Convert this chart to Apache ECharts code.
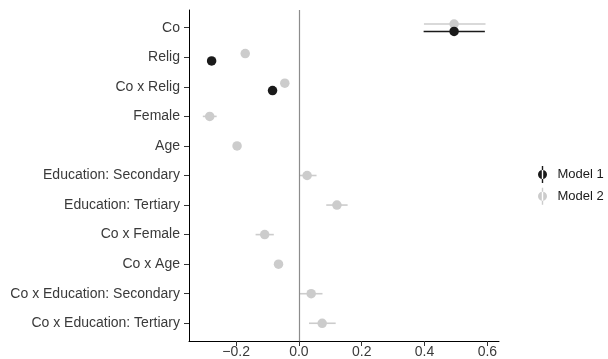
<!DOCTYPE html>
<html><head><meta charset="utf-8">
<script src="https://cdn.jsdelivr.net/npm/echarts@6/dist/echarts.min.js"></script>
<style>html,body{margin:0;padding:0;background:#fff}#c{width:608px;height:359px}</style>
</head><body><div id="c"></div>
<script>
var categories = ["Co","Relig","Co x Relig","Female","Age","Education: Secondary","Education: Tertiary","Co x Female","Co x Age","Co x Education: Secondary","Co x Education: Tertiary"];
var model1Est = [0.494, -0.278, -0.084, null, null, null, null, null, null, null, null];
var model1Lo  = [0.397, -0.289, -0.094, null, null, null, null, null, null, null, null];
var model1Hi  = [0.592, -0.267, -0.074, null, null, null, null, null, null, null, null];
var model2Est = [0.494, -0.171, -0.045, -0.284, -0.197, 0.026, 0.121, -0.109, -0.065, 0.039, 0.074];
var model2Lo  = [0.398, -0.180, -0.054, -0.306, -0.204, 0.003, 0.087, -0.138, -0.072, 0.003, 0.032];
var model2Hi  = [0.594, -0.162, -0.036, -0.262, -0.190, 0.056, 0.155, -0.080, -0.058, 0.075, 0.117];
var xTicks = [-0.2, 0, 0.2, 0.4, 0.6];
var modelNames = ["Model 1", "Model 2"];
var modelColors = ["#1a1a1a", "#cccccc"];

var n = categories.length;
var dodge = 0.125;
function build(est, lo, hi, other, sign) {
  var pts = [], bars = [];
  for (var i = 0; i < n; i++) {
    if (est[i] == null) continue;
    var y = n - i + (other[i] != null ? sign * dodge : 0);
    pts.push([est[i], y]);
    bars.push([lo[i], hi[i], y]);
  }
  return {pts: pts, bars: bars};
}
var d1 = build(model1Est, model1Lo, model1Hi, model2Est, -1);
var d2 = build(model2Est, model2Lo, model2Hi, model1Est, 1);

function errSeries(name, data, color) {
  return {
    type: 'custom', name: name, data: data, silent: true, z: 2,
    itemStyle: {color: color},
    encode: {x: [0, 1], y: 2},
    renderItem: function (params, api) {
      var a = api.coord([api.value(0), api.value(2)]);
      var b = api.coord([api.value(1), api.value(2)]);
      return {type: 'line', shape: {x1: a[0], y1: a[1], x2: b[0], y2: b[1]},
        style: {stroke: color, lineWidth: 1.6}};
    }
  };
}
function ptSeries(name, data, color) {
  return {type: 'scatter', name: name, data: data, symbol: 'circle', symbolSize: 9.5, z: 3,
    itemStyle: {color: color, opacity: 1}, silent: true};
}
var iconPath = 'path://M4.3,0 L5.7,0 L5.7,17 L4.3,17 Z M0.5,8.5 A4.5,4.5 0 1,0 9.5,8.5 A4.5,4.5 0 1,0 0.5,8.5 Z';

var chart = echarts.init(document.getElementById('c'), null, {renderer: 'canvas'});
chart.setOption({
  animation: false,
  color: modelColors,
  textStyle: {fontFamily: 'Liberation Sans, Arial, sans-serif'},
  grid: {left: 189, right: 109, top: 10, bottom: 18, containLabel: false},
  legend: {
    orient: 'vertical', left: 533, top: 161, itemWidth: 10, itemHeight: 17, itemGap: 4.7,
    textStyle: {fontSize: 13, color: '#1a1a1a', padding: [0, 0, 0, 5], fontFamily: 'Liberation Sans, Arial, sans-serif'},
    data: [{name: modelNames[0], icon: iconPath, itemStyle: {color: modelColors[0]}},
           {name: modelNames[1], icon: iconPath, itemStyle: {color: modelColors[1]}}],
    selectedMode: false
  },
  xAxis: {
    type: 'value', min: -0.35, max: 0.637,
    splitLine: {show: false},
    axisLine: {show: true, onZero: false, lineStyle: {color: '#000', width: 1}},
    axisTick: {show: true, length: 5, lineStyle: {color: '#333'}, customValues: xTicks},
    axisLabel: {fontSize: 14, color: '#3a3a3a', margin: 4, customValues: xTicks,
      formatter: function (v) { return v.toFixed(1).replace('-', '\u2212'); }}
  },
  yAxis: {
    type: 'value', min: 0.4, max: 11.6,
    splitLine: {show: false},
    axisLine: {show: true, onZero: false, lineStyle: {color: '#000', width: 1}},
    axisTick: {show: true, length: 5, lineStyle: {color: '#333'}, customValues: categories.map(function (c, i) { return n - i; })},
    axisLabel: {fontSize: 14, color: '#3a3a3a', margin: 9,
      customValues: categories.map(function (c, i) { return n - i; }),
      formatter: function (v) { var i = n - Math.round(v); return categories[i] || ''; }}
  },
  series: [
    {type: 'line', name: 'zero', data: [], silent: true,
      markLine: {silent: true, symbol: ['none', 'none'], label: {show: false},
        lineStyle: {color: '#8c8c8c', width: 1.2, type: 'solid'}, data: [{xAxis: 0}]}},
    errSeries(modelNames[1], d2.bars, modelColors[1]),
    ptSeries(modelNames[1], d2.pts, modelColors[1]),
    errSeries(modelNames[0], d1.bars, modelColors[0]),
    ptSeries(modelNames[0], d1.pts, modelColors[0])
  ]
});
</script></body></html>
